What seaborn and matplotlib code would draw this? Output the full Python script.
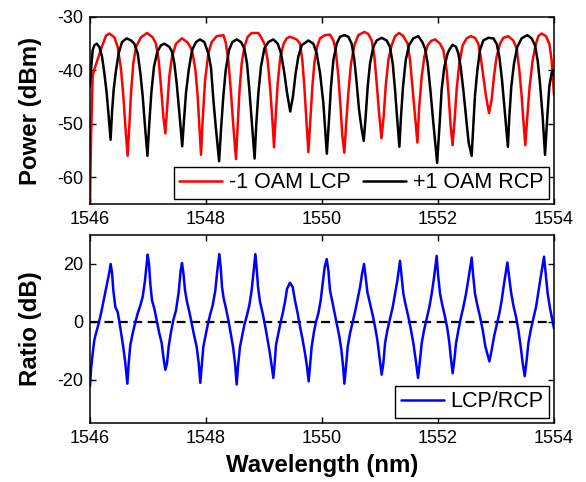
import matplotlib
matplotlib.use("Agg")
import matplotlib.pyplot as plt
import seaborn as sns

# ---------------- data ----------------
lcp_wl = [1546.000, 1546.017, 1546.046, 1546.075, 1546.190, 1546.276, 1546.333, 1546.420, 1546.477, 1546.534,
          1546.575, 1546.609, 1546.649, 1546.678, 1546.707, 1546.747, 1546.793, 1546.879, 1546.983, 1547.080,
          1547.138, 1547.184, 1547.224, 1547.264, 1547.299, 1547.328, 1547.368, 1547.414, 1547.483, 1547.586,
          1547.684, 1547.759, 1547.816, 1547.856, 1547.885, 1547.914, 1547.943, 1547.983, 1548.040, 1548.098,
          1548.184, 1548.299, 1548.339, 1548.385, 1548.431, 1548.471, 1548.517, 1548.546, 1548.575, 1548.615,
          1548.661, 1548.719, 1548.787, 1548.903, 1548.960, 1549.017, 1549.063, 1549.104, 1549.144, 1549.173,
          1549.201, 1549.236, 1549.282, 1549.339, 1549.391, 1549.448, 1549.563, 1549.621, 1549.661, 1549.695,
          1549.730, 1549.765, 1549.799, 1549.834, 1549.868, 1549.914, 1549.966, 1550.052, 1550.138, 1550.196,
          1550.236, 1550.282, 1550.322, 1550.351, 1550.385, 1550.414, 1550.454, 1550.500, 1550.558, 1550.626,
          1550.730, 1550.799, 1550.857, 1550.903, 1550.943, 1550.983, 1551.025, 1551.063, 1551.098, 1551.144,
          1551.201, 1551.259, 1551.328, 1551.403, 1551.477, 1551.518, 1551.558, 1551.604, 1551.645, 1551.673,
          1551.719, 1551.765, 1551.822, 1551.880, 1551.949, 1552.035, 1552.092, 1552.150, 1552.185, 1552.218,
          1552.252, 1552.287, 1552.321, 1552.367, 1552.425, 1552.494, 1552.563, 1552.637, 1552.695, 1552.735,
          1552.781, 1552.827, 1552.880, 1552.925, 1552.965, 1553.011, 1553.069, 1553.126, 1553.212, 1553.298,
          1553.356, 1553.402, 1553.442, 1553.475, 1553.505, 1553.540, 1553.580, 1553.632, 1553.689, 1553.729,
          1553.787, 1553.862, 1553.919, 1553.959, 1554.000]
lcp_dbm = [-65, -53, -41, -39.8, -36, -33.5, -33.1, -33.8, -35.6, -39.7,
           -44.8, -50.4, -56, -50.4, -44.2, -38.6, -35.6, -33.8, -33, -33.8,
           -35, -38.1, -43, -48.6, -51.8, -47.3, -41.1, -37.4, -35, -34,
           -34.8, -36.2, -39.8, -44.8, -50.4, -55.8, -49.2, -42, -36.8, -34.7,
           -33.6, -33.4, -34.7, -38.1, -44.2, -50.4, -56.6, -50.4, -44.2, -38.7,
           -35.6, -33.7, -33, -33, -34, -35.3, -38.1, -43, -49.2, -54.4,
           -48.6, -42.4, -37.4, -35, -34, -33.7, -34.2, -35, -38.1, -43,
           -49.2, -55.3, -49.2, -43, -38.7, -35.6, -34, -33.4, -33.3, -34.4,
           -36.2, -41.1, -47.3, -52.3, -55.4, -50.4, -44.2, -38.7, -35.3, -33.4,
           -32.8, -33.2, -34.4, -37.4, -42.4, -47.9, -52.7, -48.6, -43, -38.1,
           -35.3, -33.6, -33, -33.6, -35, -38.1, -43, -48.6, -53.5, -47.3,
           -41.1, -37.4, -35.3, -34.5, -34.2, -35, -36.2, -40, -45, -50.4,
           -54, -49.2, -43.6, -38.7, -35.3, -34, -33.6, -33.9, -35, -37.4,
           -41.1, -44.8, -48, -45.5, -41.1, -37.4, -35, -33.9, -33.6, -34.4,
           -35.9, -40, -44.8, -49.8, -54, -48.6, -43, -38.1, -35, -33.6,
           -33.1, -33.6, -35, -38.1, -44.5]

rcp_wl = [1546.000, 1546.017, 1546.046, 1546.075, 1546.115, 1546.161, 1546.207, 1546.247, 1546.287, 1546.322,
          1546.355, 1546.379, 1546.408, 1546.448, 1546.494, 1546.552, 1546.632, 1546.707, 1546.764, 1546.822,
          1546.868, 1546.908, 1546.948, 1546.990, 1547.023, 1547.057, 1547.103, 1547.161, 1547.224, 1547.282,
          1547.368, 1547.414, 1547.454, 1547.494, 1547.540, 1547.590, 1547.621, 1547.655, 1547.701, 1547.759,
          1547.828, 1547.897, 1547.971, 1548.040, 1548.086, 1548.127, 1548.167, 1548.226, 1548.259, 1548.299,
          1548.339, 1548.397, 1548.454, 1548.529, 1548.604, 1548.661, 1548.707, 1548.747, 1548.787, 1548.838,
          1548.868, 1548.903, 1548.948, 1549.006, 1549.075, 1549.161, 1549.236, 1549.293, 1549.351, 1549.397,
          1549.452, 1549.500, 1549.546, 1549.592, 1549.650, 1549.765, 1549.851, 1549.908, 1549.966, 1550.023,
          1550.083, 1550.121, 1550.155, 1550.196, 1550.253, 1550.311, 1550.385, 1550.454, 1550.512, 1550.558,
          1550.598, 1550.638, 1550.684, 1550.720, 1550.753, 1550.788, 1550.828, 1550.885, 1550.943, 1551.029,
          1551.115, 1551.172, 1551.219, 1551.259, 1551.293, 1551.334, 1551.362, 1551.397, 1551.443, 1551.500,
          1551.575, 1551.661, 1551.730, 1551.776, 1551.822, 1551.868, 1551.914, 1551.985, 1552.029, 1552.063,
          1552.109, 1552.167, 1552.207, 1552.252, 1552.310, 1552.350, 1552.390, 1552.436, 1552.482, 1552.528,
          1552.580, 1552.609, 1552.637, 1552.678, 1552.724, 1552.781, 1552.867, 1552.954, 1553.011, 1553.057,
          1553.103, 1553.149, 1553.205, 1553.230, 1553.264, 1553.310, 1553.367, 1553.442, 1553.540, 1553.614,
          1553.672, 1553.718, 1553.758, 1553.804, 1553.845, 1553.885, 1553.919, 1553.959, 1553.988, 1554.000]
rcp_dbm = [-43, -40, -36.2, -35.3, -35, -35.6, -37.4, -40.5, -44.2, -48.6,
           -53, -47.9, -43.6, -40, -36.8, -34.7, -34, -34.4, -35, -36.8,
           -40.5, -44.8, -50.4, -56, -49.8, -44.2, -39.3, -36.5, -35.3, -35,
           -35.6, -36.5, -38.7, -42.4, -47.9, -54.2, -49.2, -44.2, -40, -36.2,
           -34.7, -34.2, -34.7, -36.8, -39.5, -45.5, -50.4, -57, -51, -44.8,
           -40, -36.2, -34.7, -34.2, -34.7, -35.9, -38.7, -43.6, -49.2, -56.5,
           -49.8, -44.2, -39.3, -35.9, -34.7, -34.2, -35, -36.8, -40.5, -44.2,
           -47.7, -44.8, -40.5, -37.4, -35.3, -34.4, -35, -36.8, -40.5, -46.1,
           -55.6, -49.2, -43, -38.1, -35, -33.7, -33.4, -33.7, -35, -38.1,
           -42.4, -47.3, -51, -53.2, -48.6, -43, -38.7, -35.6, -34.4, -33.9,
           -34.4, -35.6, -38.7, -43.6, -48.6, -54.3, -48.6, -43, -38.1, -35.3,
           -34, -33.6, -34.7, -35.9, -38.7, -43.6, -49.2, -57.3, -49.8, -43.6,
           -39.3, -36.8, -35.9, -35.2, -35.6, -36.8, -39.3, -43.6, -48.6, -53.5,
           -56, -50.4, -44.8, -40, -36.2, -34.4, -33.9, -34, -35, -37.4,
           -41.7, -47.3, -54.3, -48.6, -43, -38.7, -35.6, -34, -33.4, -34,
           -35.3, -38.1, -42.4, -48.6, -55.8, -48.6, -43, -40.5, -40, -41]

ratio_wl = [1546.000, 1546.017, 1546.046, 1546.075, 1546.103, 1546.149, 1546.190, 1546.230, 1546.264, 1546.305,
            1546.333, 1546.356, 1546.379, 1546.402, 1546.437, 1546.477, 1546.506, 1546.546, 1546.580, 1546.609,
            1546.644, 1546.667, 1546.695, 1546.736, 1546.776, 1546.822, 1546.868, 1546.908, 1546.948, 1546.977,
            1546.994, 1547.017, 1547.040, 1547.069, 1547.109, 1547.149, 1547.195, 1547.236, 1547.264, 1547.299,
            1547.328, 1547.356, 1547.397, 1547.437, 1547.483, 1547.529, 1547.563, 1547.586, 1547.609, 1547.638,
            1547.672, 1547.713, 1547.759, 1547.799, 1547.839, 1547.874, 1547.902, 1547.931, 1547.954, 1547.989,
            1548.029, 1548.069, 1548.115, 1548.161, 1548.195, 1548.230, 1548.253, 1548.276, 1548.305, 1548.345,
            1548.391, 1548.431, 1548.466, 1548.500, 1548.529, 1548.552, 1548.586, 1548.621, 1548.661, 1548.707,
            1548.747, 1548.787, 1548.822, 1548.851, 1548.874, 1548.897, 1548.931, 1548.977, 1549.017, 1549.052,
            1549.092, 1549.126, 1549.161, 1549.184, 1549.207, 1549.247, 1549.282, 1549.322, 1549.362, 1549.397,
            1549.448, 1549.494, 1549.534, 1549.580, 1549.621, 1549.667, 1549.707, 1549.741, 1549.770, 1549.793,
            1549.822, 1549.862, 1549.897, 1549.937, 1549.977, 1550.011, 1550.046, 1550.081, 1550.110, 1550.138,
            1550.184, 1550.225, 1550.265, 1550.299, 1550.334, 1550.363, 1550.386, 1550.414, 1550.443, 1550.483,
            1550.523, 1550.569, 1550.610, 1550.656, 1550.690, 1550.725, 1550.753, 1550.782, 1550.828, 1550.874,
            1550.914, 1550.954, 1550.989, 1551.029, 1551.058, 1551.087, 1551.127, 1551.173, 1551.219, 1551.259,
            1551.299, 1551.345, 1551.368, 1551.403, 1551.443, 1551.489, 1551.529, 1551.575, 1551.615, 1551.656,
            1551.684, 1551.719, 1551.759, 1551.805, 1551.851, 1551.891, 1551.932, 1551.977, 1552.000, 1552.035,
            1552.075, 1552.121, 1552.161, 1552.196, 1552.225, 1552.253, 1552.282, 1552.311, 1552.351, 1552.391,
            1552.437, 1552.483, 1552.529, 1552.581, 1552.604, 1552.638, 1552.679, 1552.725, 1552.771, 1552.817,
            1552.886, 1552.926, 1552.966, 1553.012, 1553.058, 1553.098, 1553.138, 1553.196, 1553.224, 1553.259,
            1553.299, 1553.345, 1553.386, 1553.426, 1553.460, 1553.495, 1553.523, 1553.558, 1553.598, 1553.644,
            1553.690, 1553.730, 1553.770, 1553.828, 1553.857, 1553.891, 1553.932, 1553.972, 1554.000]
ratio_db = [-22.3, -16.6, -10.9, -6.3, -4, -0.6, 2.9, 6.9, 10.3, 14.3,
            17.1, 20, 17.1, 10.9, 5.1, 3.4, 0, -5.1, -9.7, -14.3,
            -21.4, -14.3, -8, -4, -0.6, 2.9, 5.7, 8.6, 14.3, 20,
            23.2, 20, 13.1, 7.4, 4.6, 0.6, -4, -7.4, -12, -16.6,
            -14.3, -8.6, -3.4, 0.6, 4, 10.3, 17.7, 20.3, 17.1, 10.9,
            6.9, 3.4, -1.1, -5.1, -8.6, -14.3, -21.1, -14.3, -8.6, -5.1,
            -1.1, 2.3, 5.7, 10.9, 17.7, 23.4, 18.9, 12, 8, 4.6,
            0, -4.6, -8.6, -14.3, -21.7, -15.4, -8.6, -5.1, -1.1, 2.3,
            5.7, 10.9, 17.7, 23.4, 18.3, 12, 6.9, 2.9, -1.1, -5.1,
            -9.7, -14.3, -19.4, -14.3, -8, -4, -0.6, 2.9, 6.9, 11.4,
            13.5, 12, 7.4, 2.9, -1.7, -6.3, -10.9, -15.4, -20.6, -15.4,
            -8.6, -3.4, 0, 2.9, 7.4, 13.1, 18.9, 21.7, 17.7, 10.9,
            6.3, 2.3, -1.7, -5.1, -9.7, -15.4, -21.4, -15.4, -8.6, -4,
            -0.6, 3.4, 7.4, 12, 16.5, 20, 15.4, 10.3, 6.3, 2.3,
            -1.7, -6.3, -12, -18.3, -14.3, -7.4, -2.9, 1.1, 5.1, 9.7,
            14.3, 21.1, 16.5, 9.7, 5.7, 1.7, -2.3, -7.4, -13.1, -19.4,
            -14.3, -7.4, -2.9, 1.1, 5.1, 9.7, 15.4, 22.8, 16.5, 9.7,
            5.7, 1.7, -2.3, -7.4, -13.1, -17.8, -13.1, -7.4, -2.9, 1.1,
            5.1, 9.7, 15.4, 22.2, 16.5, 9.7, 5.7, 1.7, -2.9, -8.6,
            -13.7, -9.7, -5.1, -1.1, 2.9, 7.4, 13.1, 20.5, 15.9, 10.3,
            5.7, 1.7, -2.9, -8.6, -14.3, -18.8, -14.3, -7.4, -2.9, 1.1,
            5.1, 10.3, 15.4, 22.5, 16.5, 9.7, 4.6, 0.6, -2.3]

x_ticks = [1546, 1548, 1550, 1552, 1554]
power_ticks = [-60, -50, -40, -30]
ratio_ticks = [-20, 0, 20]
legend_top = ["-1 OAM LCP", "+1 OAM RCP"]
legend_bottom = ["LCP/RCP"]

# ---------------- style ----------------
sns.set_style("ticks")
plt.rcParams['font.family'] = ['Liberation Sans', 'DejaVu Sans']
plt.rcParams.update({'text.color': 'black', 'axes.labelcolor': 'black',
                     'xtick.color': 'black', 'ytick.color': 'black',
                     'axes.edgecolor': 'black'})

fig = plt.figure(figsize=(5.86, 4.82), dpi=100)
ax1 = fig.add_axes([0.1536, 0.5768, 0.7918, 0.3880])
ax2 = fig.add_axes([0.1536, 0.1224, 0.7918, 0.3900])

sns.lineplot(x=lcp_wl, y=lcp_dbm, ax=ax1, color='#ff0000', lw=1.8, label=legend_top[0],
             sort=False, estimator=None)
sns.lineplot(x=rcp_wl, y=rcp_dbm, ax=ax1, color='black', lw=1.8, label=legend_top[1],
             sort=False, estimator=None)
sns.lineplot(x=ratio_wl, y=ratio_db, ax=ax2, color='#0000ff', lw=1.8, label=legend_bottom[0],
             sort=False, estimator=None)
ax2.axhline(0, color='black', ls='--', lw=1.6, dashes=(4, 2.5), zorder=1)

for ax in (ax1, ax2):
    ax.set_xlim(1546, 1554)
    ax.set_xticks(x_ticks)
    ax.set_xticklabels([str(t) for t in x_ticks])
    ax.tick_params(direction='in', top=True, right=True, labelsize=13, length=4, width=1, pad=5,
                   colors='black')
    for sp in ax.spines.values():
        sp.set_visible(True)
        sp.set_linewidth(1.1)
        sp.set_color('black')
    ax.set_facecolor('white')

ax1.set_ylim(-65, -30)
ax1.set_yticks(power_ticks)
ax1.set_yticklabels([str(t) for t in power_ticks])
ax1.set_ylabel('Power (dBm)', fontsize=17.3, fontweight='bold')
ax1.yaxis.set_label_coords(-0.103, 0.5)

ax2.set_ylim(-35, 30)
ax2.set_yticks(ratio_ticks)
ax2.set_yticklabels([str(t) for t in ratio_ticks])
ax2.set_ylabel('Ratio (dB)', fontsize=17.3, fontweight='bold')
ax2.yaxis.set_label_coords(-0.103, 0.5)
ax2.set_xlabel('Wavelength (nm)', fontsize=17.3, fontweight='bold', labelpad=5)

leg1 = ax1.legend(loc='lower right', ncol=2, fontsize=15.5, frameon=True, fancybox=False,
                  edgecolor='black', framealpha=1, handlelength=2.0, handletextpad=0.3,
                  columnspacing=0.6, borderaxespad=0.25, borderpad=0.25)
leg1.get_frame().set_linewidth(1.0)
leg2 = ax2.legend(loc='lower right', fontsize=15.5, frameon=True, fancybox=False,
                  edgecolor='black', framealpha=1, handlelength=2.0, handletextpad=0.3,
                  borderaxespad=0.25, borderpad=0.25)
leg2.get_frame().set_linewidth(1.0)

fig.savefig('out.png', dpi=100)
